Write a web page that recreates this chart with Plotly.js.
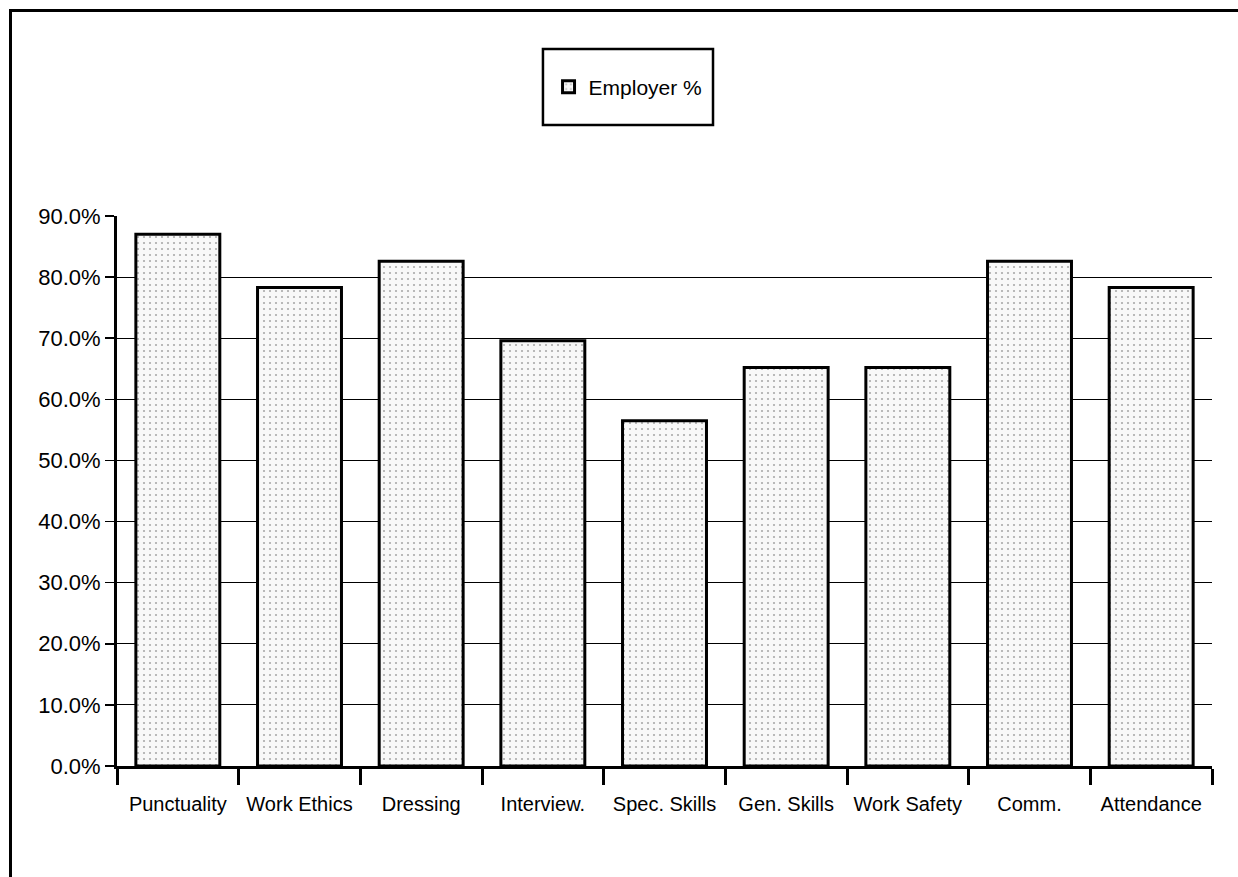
<!DOCTYPE html>
<html>
<head>
<meta charset="utf-8">
<script src="https://cdn.plot.ly/plotly-3.0.1.min.js"></script>
<style>
  html, body { margin: 0; padding: 0; background: #fff; }
  #wrap { position: relative; width: 1238px; height: 877px; }
  #chart { position: absolute; left: 0; top: 0; width: 1238px; height: 877px; }
  #frame { position: absolute; left: 9px; top: 9px; width: 1229px; height: 868px;
           border-top: 3px solid #000; border-left: 3px solid #000; pointer-events: none; box-sizing: border-box; }
</style>
</head>
<body>
<div id="wrap">
  <div id="chart"></div>
  <div id="frame"></div>
</div>
<script>
const categories = ["Punctuality", "Work Ethics", "Dressing", "Interview.", "Spec. Skills", "Gen. Skills", "Work Safety", "Comm.", "Attendance"];
const employerPct = [0.870, 0.783, 0.826, 0.696, 0.565, 0.652, 0.652, 0.826, 0.783];
const seriesName = "Employer %";
const yTickVals = [0, 0.1, 0.2, 0.3, 0.4, 0.5, 0.6, 0.7, 0.8, 0.9];

const FONT = "'Liberation Sans', Arial, sans-serif";

const trace = {
  type: "bar",
  x: categories,
  y: employerPct,
  name: seriesName,
  showlegend: true,
  marker: {
    color: "#f3f3f3",
    line: { color: "#000", width: 3 },
    pattern: { shape: ".", fgcolor: "#aaaaaa", bgcolor: "#f8f8f8", size: 6, solidity: 0.1 }
  },
  hoverinfo: "skip"
};

const layout = {
  width: 1238,
  height: 877,
  margin: { l: 117, r: 26, t: 216, b: 111 },
  paper_bgcolor: "rgba(0,0,0,0)",
  plot_bgcolor: "#fff",
  bargap: 0.31,
  font: { family: FONT, color: "#000" },
  showlegend: true,
  legend: {
    x: 0.4667, y: 1.2345, xanchor: "center", yanchor: "middle",
    xref: "paper", yref: "paper",
    bgcolor: "rgba(0,0,0,0)", borderwidth: 0,
    font: { family: FONT, size: 21, color: "#000" }
  },
  shapes: [{
    type: "rect", xref: "paper", yref: "paper",
    x0: 0.389, x1: 0.5443, y0: 1.1655, y1: 1.3036,
    line: { color: "#000", width: 2.5 }, fillcolor: "rgba(0,0,0,0)"
  }],
  xaxis: {
    type: "category",
    tickson: "boundaries",
    tickangle: 0,
    ticks: "outside", ticklen: 16, tickwidth: 3, tickcolor: "#000",
    ticklabelstandoff: 18,
    showline: true, linecolor: "#000", linewidth: 3,
    showgrid: false, zeroline: false,
    tickfont: { family: FONT, size: 20, color: "#000" },
    fixedrange: true
  },
  yaxis: {
    range: [0, 0.9],
    tickvals: yTickVals,
    tickformat: ".1%",
    ticks: "outside", ticklen: 9, tickwidth: 1.5, tickcolor: "#000",
    showline: true, linecolor: "#000", linewidth: 3,
    showgrid: true, gridcolor: "#000", gridwidth: 1,
    zeroline: false,
    tickfont: { family: FONT, size: 22, color: "#000" },
    fixedrange: true
  }
};

Plotly.newPlot("chart", [trace], layout, { displayModeBar: false, staticPlot: true });
</script>
</body>
</html>
